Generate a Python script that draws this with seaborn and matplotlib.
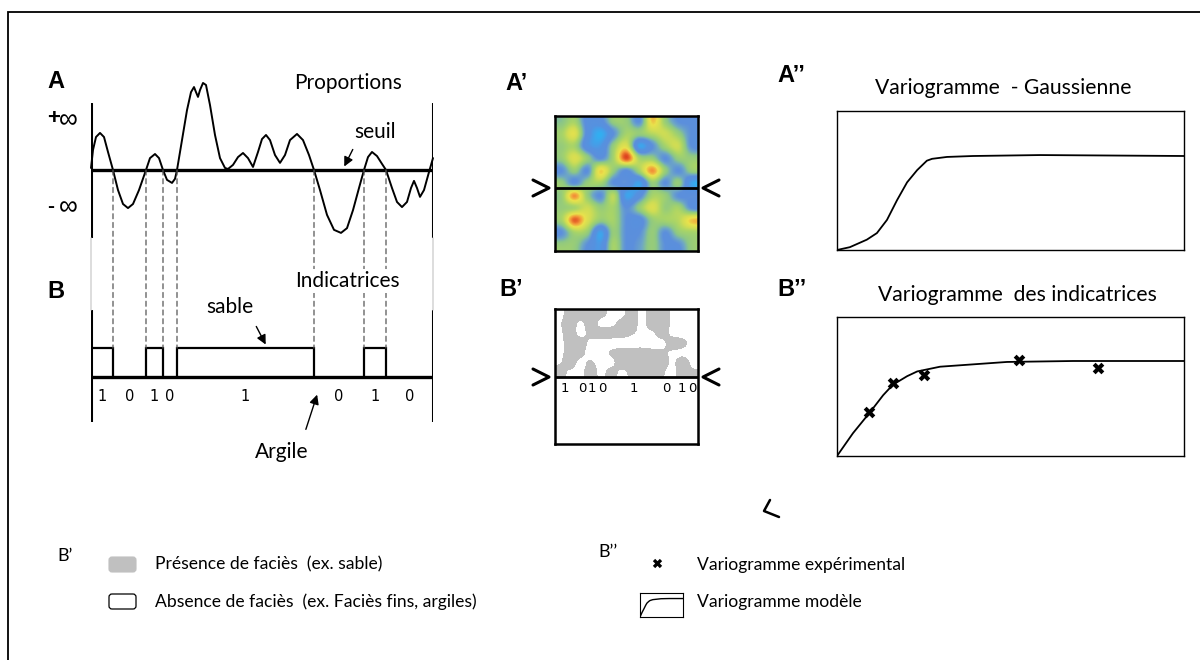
import numpy as np
import matplotlib
matplotlib.use("Agg")
import matplotlib.pyplot as plt
import seaborn as sns
from matplotlib.colors import LinearSegmentedColormap, ListedColormap, BoundaryNorm
from matplotlib.patches import FancyBboxPatch, ConnectionPatch

# ---------------------------------------------------------------- data
# A : Gaussian signal along the transect (position, value; threshold = 0)
transect_pos = [0, 2, 5, 9, 13, 17, 22, 27, 32, 37, 42, 48, 55, 59, 64, 68, 72, 76,
                81, 84, 86, 91, 96, 100, 103, 105, 107, 109, 112, 115, 119, 124, 129,
                134, 137, 142, 147, 152, 157, 162, 167, 171, 175, 179, 184, 189, 194,
                199, 206, 212, 218, 223, 229, 236, 243, 250, 256, 262, 268, 273, 277,
                281, 286, 291, 295, 301, 306, 311, 316, 320, 323, 326, 329, 333, 338, 342]
gauss_value = [0.06, 0.59, 0.97, 1.09, 0.97, 0.53, 0.0, -0.59, -1.0, -1.12, -1.0, -0.59,
               0.0, 0.35, 0.47, 0.35, 0.0, -0.29, -0.38, -0.26, 0.0, 0.88, 1.76, 2.29,
               2.44, 2.29, 2.15, 2.35, 2.56, 2.5, 1.91, 1.03, 0.35, 0.06, 0.03, 0.15,
               0.38, 0.5, 0.35, 0.09, 0.53, 0.91, 1.03, 0.88, 0.44, 0.21, 0.44, 0.88,
               1.06, 0.88, 0.44, 0.0, -0.59, -1.32, -1.76, -1.85, -1.71, -1.18, -0.53,
               0.0, 0.38, 0.53, 0.41, 0.18, 0.0, -0.53, -0.94, -1.09, -0.94, -0.53,
               -0.32, -0.53, -0.79, -0.59, -0.06, 0.35]
transect_len = 342

# B : indicator (1 = sable) intervals where the signal exceeds the threshold
sand_intervals = [(0, 22), (55, 72), (86, 223), (273, 295)]
indicator_bounds = [0, 22, 55, 72, 86, 223, 273, 295, 342]
indicator_codes = ["1", "0", "1", "0", "1", "0", "1", "0"]

# A' : Gaussian random field (rows top -> bottom)
field = [
    [0.45, 0.55, 0.25, 0.25, 0.50, 0.50, 0.30, 0.80, 0.50, 0.30, 0.30],
    [0.55, 0.72, 0.25, 0.05, 0.30, 0.55, 0.50, 0.60, 0.65, 0.50, 0.30],
    [0.50, 0.55, 0.20, 0.15, 0.50, 0.70, 0.10, 0.30, 0.55, 0.65, 0.30],
    [0.50, 0.70, 0.50, 0.30, 0.55, 0.98, 0.55, 0.50, 0.30, 0.50, 0.50],
    [0.30, 0.50, 0.30, 0.78, 0.50, 0.30, 0.55, 0.88, 0.50, 0.30, 0.50],
    [0.50, 0.30, 0.50, 0.55, 0.30, 0.30, 0.10, 0.50, 0.30, 0.50, 0.10],
    [0.50, 0.88, 0.50, 0.30, 0.60, 0.10, 0.25, 0.55, 0.50, 0.30, 0.30],
    [0.50, 0.55, 0.65, 0.50, 0.55, 0.30, 0.50, 0.70, 0.50, 0.55, 0.30],
    [0.55, 0.95, 0.70, 0.50, 0.55, 0.30, 0.25, 0.50, 0.55, 0.60, 0.80],
    [0.30, 0.55, 0.50, 0.10, 0.50, 0.30, 0.30, 0.50, 0.30, 0.50, 0.55],
    [0.50, 0.50, 0.30, 0.15, 0.55, 0.30, 0.35, 0.50, 0.30, 0.30, 0.50],
]

# B' : facies presence (upper half of the section, rows top -> bottom)
facies = [
    [0.2, 1.0, 1.0, 1.0, 0.8, 0.2, 0.2, 0.9, 0.2, 1.0, 1.0, 0.3, 0.0, 0.0],
    [0.4, 1.0, 0.3, 1.0, 0.2, 0.2, 0.8, 1.0, 0.2, 1.0, 1.0, 0.3, 0.0, 0.0],
    [0.3, 1.0, 0.2, 0.8, 1.0, 1.0, 1.0, 0.6, 0.2, 0.3, 1.0, 0.2, 0.0, 0.0],
    [0.2, 1.0, 1.0, 0.2, 0.1, 0.0, 0.0, 0.0, 0.0, 0.0, 0.2, 1.0, 0.8, 0.0],
    [0.2, 1.0, 0.8, 0.0, 0.0, 0.6, 1.0, 1.0, 1.0, 0.8, 0.7, 0.3, 0.2, 0.0],
    [0.4, 1.0, 0.2, 0.6, 0.0, 0.2, 1.0, 1.0, 1.0, 1.0, 1.0, 0.3, 1.0, 0.2],
    [0.8, 0.3, 0.2, 1.0, 0.2, 0.8, 0.3, 0.7, 1.0, 1.0, 0.6, 0.2, 1.0, 0.6],
]
section_codes = ["1", "0", "1", "0", "1", "0", "1", "0"]
section_code_pos = [0.07, 0.19, 0.26, 0.33, 0.55, 0.78, 0.89, 0.96]

# A'' : Gaussian variogram model (lag, gamma)
gauss_lag = [0, 3.7, 8.6, 11.5, 14.4, 17.3, 20.2, 23.1, 25.9, 27.4, 31.7, 39.2, 58.5, 100]
gauss_gamma = [0, 0.03, 0.11, 0.18, 0.32, 0.53, 0.72, 0.85, 0.95, 0.97, 0.99, 1.0, 1.01, 1.0]

# B'' : indicator variogram, model and experimental points
ind_lag = [0, 4.6, 9.5, 13.3, 16.1, 20.2, 23.1, 29.7, 49.0, 68.0, 100]
ind_gamma = [0, 0.24, 0.46, 0.64, 0.75, 0.84, 0.89, 0.94, 0.99, 1.0, 1.0]
exp_lag = [9.2, 16.1, 25.1, 52.4, 75.2]
exp_gamma = [0.46, 0.77, 0.85, 1.01, 0.93]

# ---------------------------------------------------------------- style
sns.set_style("white")
TXT = ['Lato', 'DejaVu Sans']
BOLD = ['Liberation Sans', 'DejaVu Sans']
plt.rcParams['font.family'] = TXT
plt.rcParams['text.color'] = 'black'

W, H = 1200, 660
fig = plt.figure(figsize=(12, 6.6), dpi=100)


def px_axes(x0, y0, x1, y1, zorder=1):
    ax = fig.add_axes([x0 / W, 1 - y1 / H, (x1 - x0) / W, (y1 - y0) / H], zorder=zorder)
    ax.patch.set_alpha(0)
    return ax


def bare(ax):
    ax.set_xticks([])
    ax.set_yticks([])
    for s in ax.spines.values():
        s.set_visible(False)


def boxed(ax, lw):
    ax.set_xticks([])
    ax.set_yticks([])
    ax.set_xlabel('')
    ax.set_ylabel('')
    for s in ax.spines.values():
        s.set_visible(True)
        s.set_linewidth(lw)
        s.set_color('k')


# background layer in pixel units for frame, labels and legend
bg = px_axes(0, 0, W, H, zorder=0)
bg.set_xlim(0, W)
bg.set_ylim(H, 0)
bg.axis('off')
bg.plot([8, 8, W], [H, 12, 12], color='k', lw=1.3, solid_joinstyle='miter')

# ---------------------------------------------------------------- A
axA = px_axes(91, 103, 433, 238)
bare(axA)
axA.set_xlim(0, transect_len)
axA.set_ylim((170 - 238) / 34, (170 - 103) / 34)
sns.lineplot(x=transect_pos, y=gauss_value, ax=axA, color='k', lw=1.4,
             sort=False, clip_on=False)
axA.axhline(0, color='k', lw=2.4)
axA.axvline(0, color='k', lw=2.2)
axA.axvline(transect_len, color='k', lw=2.2)

# ---------------------------------------------------------------- B
axB = px_axes(91, 310, 433, 422)
bare(axB)
axB.set_xlim(0, transect_len)
axB.set_ylim((377 - 422) / 29, (377 - 310) / 29)
for a, b in sand_intervals:
    axB.plot([a, a, b, b], [0, 1, 1, 0], color='k', lw=1.6, solid_joinstyle='miter')
axB.axhline(0, color='k', lw=2.4)
axB.axvline(0, color='k', lw=2.2)
axB.axvline(transect_len, color='k', lw=2.2)
for code, a, b in zip(indicator_codes, indicator_bounds[:-1], indicator_bounds[1:]):
    axB.text((a + b) / 2, -0.66, code, ha='center', va='center', fontsize=10.5,
             family=['DejaVu Sans'])

# dashed links from threshold crossings down to the indicator steps
for c in indicator_bounds[1:-1]:
    con = ConnectionPatch(xyA=(c, 0), coordsA=axA.transData, xyB=(c, 1),
                          coordsB=axB.transData, color='#555555', lw=0.9,
                          linestyle=(0, (4, 3)), zorder=2)
    fig.add_artist(con)
for c in (0, transect_len):
    con = ConnectionPatch(xyA=(c, axA.get_ylim()[0]), coordsA=axA.transData,
                          xyB=(c, axB.get_ylim()[1]), coordsB=axB.transData,
                          color='#cfcfcf', lw=1.0, zorder=2)
    fig.add_artist(con)

# ---------------------------------------------------------------- A'
field_cmap = LinearSegmentedColormap.from_list(
    'field', [(0.0, '#22bcf6'), (0.07, '#3aa8ee'), (0.17, '#5592e0'),
              (0.3, '#5c8fdc'), (0.38, '#6fa8c4'), (0.46, '#8cc786'),
              (0.56, '#a8d468'), (0.66, '#d0dd54'), (0.76, '#e9e24c'),
              (0.87, '#f39a3a'), (1.0, '#dc3c1e')])
axF = px_axes(555, 116, 698, 251, zorder=2)
axF.imshow(np.array(field), cmap=field_cmap, vmin=0, vmax=1, aspect='auto',
           interpolation='catrom', interpolation_stage='data', extent=(0, 1, 0, 1))
axF.set_xlim(0, 1)
axF.set_ylim(0, 1)
boxed(axF, 1.8)
axF.axhline((251 - 188) / 135, color='k', lw=2.0)

# ---------------------------------------------------------------- B'
axS = px_axes(555, 309, 698, 444, zorder=2)
cut = (444 - 377) / 135
axS.imshow(np.array(facies), cmap=ListedColormap(['white', '#c0c0c0']),
           norm=BoundaryNorm([-10, 0.45, 10], 2), aspect='auto',
           interpolation='catrom', interpolation_stage='data',
           extent=(0, 1, cut, 1))
axS.set_xlim(0, 1)
axS.set_ylim(0, 1)
boxed(axS, 1.8)
axS.axhline(cut, color='k', lw=2.0)
for code, xp in zip(section_codes, section_code_pos):
    axS.text(xp, (444 - 389) / 135, code, ha='center', va='center', fontsize=9.5,
             family=['DejaVu Sans'])

# section markers
for yy in (188, 377):
    bg.plot([533, 549, 533], [yy - 8, yy, yy + 8], color='k', lw=2.2)
    bg.plot([719, 703, 719], [yy - 8, yy, yy + 8], color='k', lw=2.2)
bg.plot([770, 764, 779], [500, 511, 517], color='k', lw=1.8)

# ---------------------------------------------------------------- A''
axG = px_axes(837, 111, 1184, 250)
axG.set_xlim(0, 100)
axG.set_ylim(0, (250 - 111) / 94)
sns.lineplot(x=gauss_lag, y=gauss_gamma, ax=axG, color='k', lw=1.3)
boxed(axG, 1.0)

# ---------------------------------------------------------------- B''
axI = px_axes(837, 317, 1184, 456)
axI.set_xlim(0, 100)
axI.set_ylim(0, (456 - 317) / 95)
sns.lineplot(x=ind_lag, y=ind_gamma, ax=axI, color='k', lw=1.3)
sns.scatterplot(x=exp_lag, y=exp_gamma, ax=axI, marker='X', s=70, color='k',
                linewidth=0, zorder=3)
boxed(axI, 1.0)

# ---------------------------------------------------------------- labels
for txt, x, y in [("A", 47, 81), ("B", 47, 291), ("A\u2019", 505, 83),
                  ("B\u2019", 499, 289), ("A\u2019\u2019", 777, 76),
                  ("B\u2019\u2019", 777, 290)]:
    bg.text(x, y, txt, fontsize=17, fontweight='bold', family=BOLD,
            ha='left', va='center')
bg.text(47, 119, "+", fontsize=16, fontweight='bold', family=BOLD, ha='left', va='center')
bg.text(59, 120, "\u221e", fontsize=19, family=BOLD, ha='left', va='center')
bg.text(47, 206, "-", fontsize=15, fontweight='bold', family=BOLD, ha='left', va='center')
bg.text(59, 207, "\u221e", fontsize=19, family=BOLD, ha='left', va='center')

WS = 15
bg.text(348, 83, "Proportions", fontsize=WS, ha='center', va='center')
bg.text(375, 132, "seuil", fontsize=WS, ha='center', va='center')
bg.annotate("", xy=(343, 169), xytext=(354, 147),
            arrowprops=dict(arrowstyle='-|>', color='k', lw=1.0, mutation_scale=14))
fig.text(347 / W, 1 - 281 / H, "Indicatrices", fontsize=WS, ha='center', va='center',
         zorder=5, bbox=dict(facecolor='white', edgecolor='none', pad=1.5))
bg.text(230, 307, "sable", fontsize=WS, ha='center', va='center')
bg.annotate("", xy=(267, 347), xytext=(255, 324),
            arrowprops=dict(arrowstyle='-|>', color='k', lw=1.0, mutation_scale=14))
bg.text(282, 452, "Argile", fontsize=WS, ha='center', va='center')
bg.annotate("", xy=(318, 392), xytext=(305, 432),
            arrowprops=dict(arrowstyle='-|>', color='k', lw=1.0, mutation_scale=14))

bg.text(1003, 88, "Variogramme  - Gaussienne", fontsize=15.2, ha='center', va='center')
bg.text(1017, 295, "Variogramme  des indicatrices", fontsize=15.2, ha='center',
        va='center')

# ---------------------------------------------------------------- legend
LS = 12.6
bg.text(57, 556, "B\u2019", fontsize=13, ha='left', va='center')
bg.add_patch(FancyBboxPatch((109, 557), 27, 15, boxstyle="round,pad=0,rounding_size=3",
                            facecolor='#c0c0c0', edgecolor='#c0c0c0', lw=0.8))
bg.text(155, 564, "Présence de faciès  (ex. sable)", fontsize=LS, ha='left', va='center')
bg.add_patch(FancyBboxPatch((109, 594), 27, 15, boxstyle="round,pad=0,rounding_size=3",
                            facecolor='white', edgecolor='k', lw=0.9))
bg.text(155, 602, "Absence de faciès  (ex. Faciès fins, argiles)", fontsize=LS,
        ha='left', va='center')

bg.text(598, 552, "B\u2019\u2019", fontsize=13, ha='left', va='center')
sns.scatterplot(x=[657], y=[563], ax=bg, marker='X', s=45, color='k', linewidth=0)
bg.text(697, 565, "Variogramme expérimental", fontsize=LS, ha='left', va='center')
axL = px_axes(640, 593, 683, 617)
axL.set_xlim(0, 100)
axL.set_ylim(0, 1.3)
sns.lineplot(x=ind_lag, y=ind_gamma, ax=axL, color='k', lw=1.0)
boxed(axL, 0.8)
bg.text(697, 602, "Variogramme modèle", fontsize=LS, ha='left', va='center')

fig.savefig("out.png", dpi=100)
